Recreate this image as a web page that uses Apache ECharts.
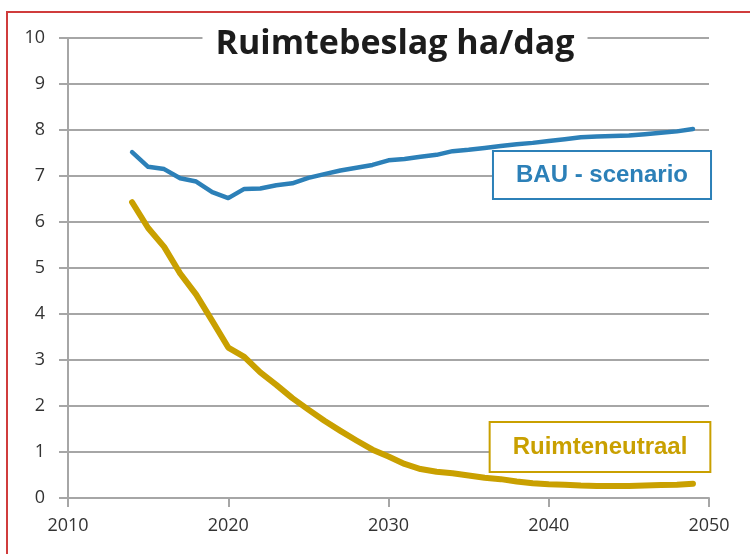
<!DOCTYPE html>
<html>
<head>
<meta charset="utf-8">
<script src="https://cdn.jsdelivr.net/npm/echarts@6/dist/echarts.min.js"></script>
<style>
  html, body { margin: 0; padding: 0; background: #fff; }
  #chart { width: 750px; height: 554px; }
</style>
</head>
<body>
<div id="chart"></div>
<script>
const years = [2014, 2015, 2016, 2017, 2018, 2019, 2020, 2021, 2022, 2023, 2024, 2025,
  2026, 2027, 2028, 2029, 2030, 2031, 2032, 2033, 2034, 2035, 2036, 2037,
  2038, 2039, 2040, 2041, 2042, 2043, 2044, 2045, 2046, 2047, 2048, 2049]

const bauValues = [7.52, 7.2, 7.15, 6.95, 6.88, 6.65, 6.52, 6.72, 6.73, 6.8, 6.84, 6.96,
  7.04, 7.12, 7.18, 7.24, 7.34, 7.37, 7.42, 7.46, 7.54, 7.57, 7.61, 7.65,
  7.69, 7.72, 7.76, 7.8, 7.84, 7.86, 7.87, 7.88, 7.91, 7.94, 7.97, 8.02]

const neutraalValues = [6.43, 5.87, 5.46, 4.88, 4.42, 3.85, 3.27, 3.07, 2.73, 2.46, 2.17, 1.92,
  1.68, 1.46, 1.25, 1.05, 0.9, 0.74, 0.63, 0.57, 0.54, 0.49, 0.44, 0.41,
  0.36, 0.32, 0.3, 0.29, 0.27, 0.26, 0.26, 0.26, 0.27, 0.28, 0.29, 0.31]

const titleText = 'Ruimtebeslag ha/dag'
const bauLabel = 'BAU - scenario'
const neutraalLabel = 'Ruimteneutraal'

const blue = '#2c80b8'
const gold = '#c9a000'
const gray = '#a6a6a6'

const chart = echarts.init(document.getElementById('chart'))

const option = {
  backgroundColor: '#fff',
  animation: false,
  grid: { left: 68, right: 41, top: 38, bottom: 56 },
  xAxis: {
    type: 'value',
    min: 2010,
    max: 2050,
    interval: 10,
    axisLine: { show: true, lineStyle: { color: gray, width: 2 } },
    axisTick: { show: true, length: 9, lineStyle: { color: gray, width: 2 } },
    splitLine: { show: false },
    axisLabel: {
      margin: 19, color: '#333', fontFamily: 'Open Sans', fontSize: 18,
      formatter: v => String(v)
    }
  },
  yAxis: {
    type: 'value',
    min: 0,
    max: 10,
    interval: 1,
    axisLine: { show: true, lineStyle: { color: gray, width: 2 } },
    axisTick: { show: true, length: 9, lineStyle: { color: gray, width: 2 } },
    splitLine: { show: true, lineStyle: { color: gray, width: 2 } },
    axisLabel: { margin: 23, color: '#333', fontFamily: 'Open Sans', fontSize: 18 }
  },
  series: [
    {
      name: bauLabel,
      type: 'line',
      data: years.map((y, i) => [y, bauValues[i]]),
      showSymbol: false,
      lineStyle: { color: blue, width: 4.5, cap: 'round', join: 'round' }
    },
    {
      name: neutraalLabel,
      type: 'line',
      data: years.map((y, i) => [y, neutraalValues[i]]),
      showSymbol: false,
      lineStyle: { color: gold, width: 6, cap: 'round', join: 'round' }
    }
  ],
  graphic: [
    {
      type: 'rect',
      shape: { x: 7, y: 12, width: 800, height: 600 },
      style: { fill: 'none', stroke: '#d03c3c', lineWidth: 2 },
      z: 100
    },
    {
      type: 'text',
      style: {
        text: titleText, x: 395, y: 44, align: 'center', verticalAlign: 'middle',
        font: 'bold 34px "Open Sans"', fill: '#1c1c1c', backgroundColor: '#fff', padding: [0, 13]
      },
      z: 100
    },
    {
      type: 'text',
      style: {
        text: bauLabel, x: 602, y: 175, align: 'center', verticalAlign: 'middle',
        font: 'bold 24px "Liberation Sans"', fill: blue, backgroundColor: '#fff',
        borderColor: blue, borderWidth: 2, padding: [11, 22], lineHeight: 24
      },
      z: 100
    },
    {
      type: 'text',
      style: {
        text: neutraalLabel, x: 600, y: 447, align: 'center', verticalAlign: 'middle',
        font: 'bold 24px "Liberation Sans"', fill: gold, backgroundColor: '#fff',
        borderColor: gold, borderWidth: 2, padding: [12, 22], lineHeight: 24
      },
      z: 100
    }
  ]
}

chart.setOption(option)
</script>
</body>
</html>
